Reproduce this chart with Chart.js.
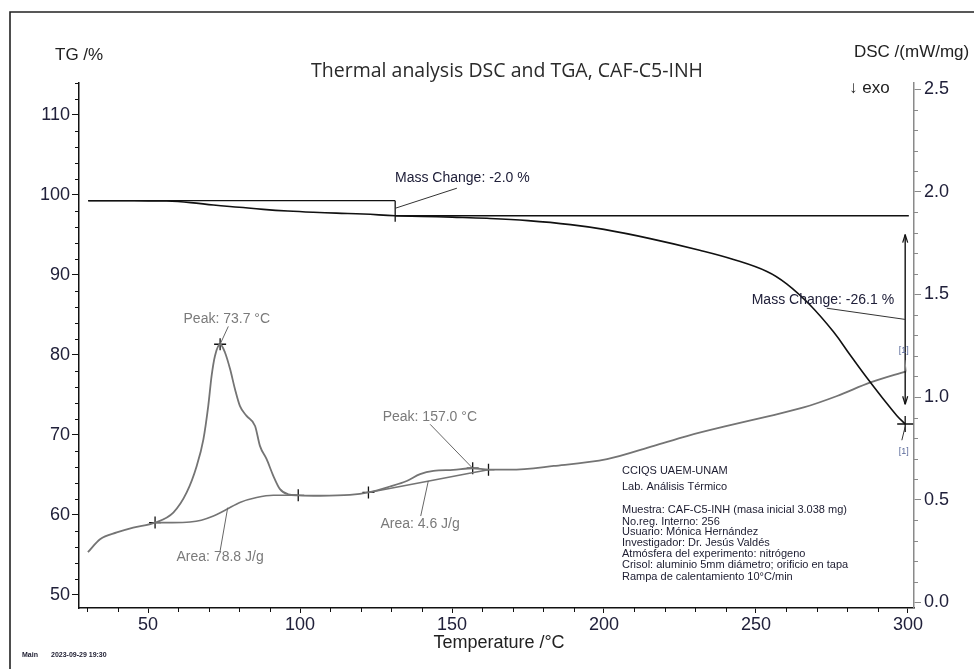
<!DOCTYPE html>
<html>
<head>
<meta charset="utf-8">
<title>Thermal analysis DSC and TGA, CAF-C5-INH</title>
<script src="https://cdn.jsdelivr.net/npm/chart.js"></script>
<style>
  body { margin: 0; background: #fff; }
  canvas { display: block; }
</style>
</head>
<body>
<canvas id="thermo" width="974" height="669"></canvas>
<script>
// TG curve (temperature °C, mass %)
const tgTemp = [30.3, 40.8, 50, 56.1, 64, 71.5, 80, 87.9, 96, 104.4, 112, 120.8, 131.3, 140, 150, 161.5,
  175, 189, 200, 215.2, 231.5, 242.6, 253.6, 260.1, 267.8, 275.5, 281, 286.5, 291.9, 296.3, 299.1];
const tgMass = [99.24, 99.24, 99.22, 99.2, 99.0, 98.7, 98.42, 98.16, 97.95, 97.79, 97.68, 97.58, 97.36, 97.28, 97.18, 97.04,
  96.75, 96.25, 95.65, 94.5, 93.05, 91.9, 90.4, 88.85, 86.2, 82.85, 79.95, 77.1, 74.45, 72.4, 71.33];

// DSC curve (temperature °C, mW/mg)
const dscTemp = [30.2, 34.2, 39.7, 45.1, 52.3, 58.3, 62.7, 66.0, 68.2, 69.8, 70.9, 72.0, 73.7, 75.3, 77.0, 78.6,
  80.2, 82.4, 85.2, 86.8, 89.0, 91.2, 93.4, 96.1, 99.4, 106.6, 116.4, 122.5, 129.6, 135.1, 139.5, 143.9,
  150.4, 156.8, 162.0, 169.1, 183.5, 201.0, 216.4, 227.3, 240.5, 254.7, 265.7, 276.7, 287.7, 299.4];
const dscVal = [0.244, 0.307, 0.340, 0.364, 0.388, 0.437, 0.535, 0.664, 0.794, 0.957, 1.103, 1.200, 1.257, 1.217, 1.135, 1.038,
  0.957, 0.908, 0.859, 0.762, 0.697, 0.616, 0.551, 0.526, 0.521, 0.519, 0.523, 0.535, 0.564, 0.591, 0.624, 0.640,
  0.645, 0.653, 0.646, 0.646, 0.664, 0.697, 0.762, 0.810, 0.859, 0.908, 0.949, 1.005, 1.071, 1.125];

// integration baselines
const base1Temp = [52.3, 58, 63.8, 67.5, 71.5, 75.9, 80.2, 85.7, 91.2, 99.4];
const base1Val = [0.388, 0.388, 0.391, 0.40, 0.42, 0.453, 0.486, 0.51, 0.521, 0.521];
const base2Temp = [122.5, 142, 162.0];
const base2Val = [0.535, 0.59, 0.646];

// evaluation marks
const dscMarkTemp = [52.3, 73.7, 99.4, 122.5, 156.8, 162.0];
const dscMarkVal = [0.388, 1.257, 0.521, 0.535, 0.653, 0.646];
const tgMarkTemp = [299.1];
const tgMarkVal = [71.33];

// mass change steps
const step1 = { t0: 30.3, t1: 131.3, m0: 99.24, m1: 97.36, tEnd: 300.3 };
const step2 = { t: 299.1, top: 95.0, bottom: 73.8 };

// axes
const xTicks = [50, 100, 150, 200, 250, 300];
const tgTicks = [50, 60, 70, 80, 90, 100, 110];
const dscTicks = [0, 0.5, 1.0, 1.5, 2.0, 2.5];

const pts = (xs, ys) => xs.map((v, i) => ({ x: v, y: ys[i] }));
const tickFont = { family: 'Liberation Sans, Arial, sans-serif', size: 18 };

const lineSet = (label, xs, ys, axis, color, width) => ({
  label, data: pts(xs, ys), yAxisID: axis, borderColor: color, borderWidth: width,
  pointRadius: 0, fill: false, cubicInterpolationMode: 'monotone'
});

// annotation texts, lines and minor ticks
const decor = {
  id: 'decor',
  afterDatasetsDraw(chart) {
    const ctx = chart.ctx;
    const X = chart.scales.x, T = chart.scales.tg, D = chart.scales.dsc;
    const px = v => X.getPixelForValue(v);
    const line = (x1, y1, x2, y2, color, w) => {
      ctx.beginPath(); ctx.moveTo(x1, y1); ctx.lineTo(x2, y2);
      ctx.strokeStyle = color; ctx.lineWidth = w; ctx.stroke();
    };
    ctx.save();
    // step 1 (-2.0 %)
    const k = '#111';
    line(px(step1.t0), T.getPixelForValue(step1.m0), px(step1.t1), T.getPixelForValue(step1.m0), k, 1.3);
    line(px(step1.t1), T.getPixelForValue(step1.m0), px(step1.t1), T.getPixelForValue(96.6), k, 1.3);
    line(px(step1.t1), T.getPixelForValue(step1.m1), px(step1.tEnd), T.getPixelForValue(step1.m1), k, 1.3);
    line(px(step1.t1), T.getPixelForValue(98.29), px(151.6), T.getPixelForValue(100.8), '#333', 1);
    // step 2 (-26.1 %), double arrow
    const ax = px(step2.t), ya = T.getPixelForValue(step2.top), yb = T.getPixelForValue(step2.bottom);
    line(ax, ya, ax, yb, k, 1.4);
    line(ax - 2.5, ya + 8, ax, ya, k, 1.2); line(ax + 2.5, ya + 8, ax, ya, k, 1.2);
    line(ax - 2.5, yb - 8, ax, yb, k, 1.2); line(ax + 2.5, yb - 8, ax, yb, k, 1.2);
    line(px(273.3), T.getPixelForValue(85.8), ax, T.getPixelForValue(84.4), '#333', 1);
    // DSC leaders
    const g = '#666';
    line(px(73.7), D.getPixelForValue(1.257), px(76.4), D.getPixelForValue(1.344), g, 1);
    line(px(142.8), D.getPixelForValue(0.867), px(156.8), D.getPixelForValue(0.653), g, 1);
    line(px(73.7), D.getPixelForValue(0.25), px(76.2), D.getPixelForValue(0.461), g, 1);
    line(px(139.7), D.getPixelForValue(0.42), px(142.2), D.getPixelForValue(0.591), g, 1);
    // [1] leaders
    line(px(299.0), D.getPixelForValue(1.18), px(299.4), D.getPixelForValue(1.125), '#888', 1);
    line(px(299.1), T.getPixelForValue(71.0), px(298.0), T.getPixelForValue(69.3), '#333', 1);

    ctx.textBaseline = 'middle';
    ctx.font = '14px "Liberation Sans", Arial, sans-serif';
    ctx.fillStyle = '#20203a';
    ctx.textAlign = 'left';
    ctx.fillText('Mass Change: -2.0 %', px(131.25), T.getPixelForValue(102.1));
    ctx.fillText('Mass Change: -26.1 %', px(248.6), T.getPixelForValue(86.8));
    ctx.fillStyle = '#7a7a7a';
    ctx.textAlign = 'center';
    ctx.fillText('Peak: 73.7 °C', px(75.9), D.getPixelForValue(1.379));
    ctx.fillText('Peak: 157.0 °C', px(142.7), D.getPixelForValue(0.902));
    ctx.fillText('Area: 78.8 J/g', px(73.7), D.getPixelForValue(0.219));
    ctx.fillText('Area: 4.6 J/g', px(139.5), D.getPixelForValue(0.38));
    ctx.font = '9px "Liberation Sans", Arial, sans-serif';
    ctx.fillStyle = '#5b6a9a';
    ctx.fillText('[1]', px(298.6), D.getPixelForValue(1.225));
    ctx.fillText('[1]', px(298.6), T.getPixelForValue(67.9));
    ctx.restore();
  },
  afterDraw(chart) {
    const ctx = chart.ctx;
    const X = chart.scales.x, T = chart.scales.tg, D = chart.scales.dsc;
    const area = chart.chartArea;
    ctx.save();
    // minor ticks
    ctx.lineWidth = 1;
    ctx.strokeStyle = '#111';
    ctx.beginPath();
    for (let v = 30; v <= 300; v += 10) {
      if (v % 50 === 0) continue;
      const p = Math.round(X.getPixelForValue(v)) + 0.5;
      ctx.moveTo(p, area.bottom); ctx.lineTo(p, area.bottom + 4);
    }
    for (let v = 50; v <= 114; v += 2) {
      if (v % 10 === 0) continue;
      const p = Math.round(T.getPixelForValue(v)) + 0.5;
      ctx.moveTo(area.left, p); ctx.lineTo(area.left - 4, p);
    }
    ctx.stroke();
    ctx.strokeStyle = '#8a8a8a';
    ctx.beginPath();
    for (let i = 0; i <= 25; i++) {
      if (i % 5 === 0) continue;
      const p = Math.round(D.getPixelForValue(i / 10)) + 0.5;
      ctx.moveTo(area.right, p); ctx.lineTo(area.right + 4, p);
    }
    ctx.stroke();

    // frame
    ctx.strokeStyle = '#222';
    ctx.lineWidth = 1.6;
    ctx.beginPath();
    ctx.moveTo(10, 669); ctx.lineTo(10, 12); ctx.lineTo(974, 12);
    ctx.stroke();

    // titles
    ctx.textBaseline = 'middle';
    ctx.fillStyle = '#222';
    ctx.font = '17px "Liberation Sans", Arial, sans-serif';
    ctx.textAlign = 'left';
    ctx.fillText('TG /%', 55, 55);
    ctx.fillText('DSC /(mW/mg)', 854, 52);
    ctx.fillText('\u2193 exo', 849, 88);
    ctx.textAlign = 'center';
    ctx.font = '18px "Liberation Sans", Arial, sans-serif';
    ctx.fillText('Temperature /°C', 499, 643);
    ctx.font = '19.5px "Open Sans", sans-serif';
    ctx.fillStyle = '#2a2a2a';
    ctx.fillText('Thermal analysis DSC and TGA, CAF-C5-INH', 507, 71);

    // instrument info
    ctx.textAlign = 'left';
    ctx.fillStyle = '#1c1c30';
    ctx.font = '11px "Liberation Sans", Arial, sans-serif';
    const info = [
      ['CCIQS UAEM-UNAM', 471], ['Lab. Análisis Térmico', 486.7],
      ['Muestra: CAF-C5-INH (masa inicial 3.038 mg)', 510], ['No.reg. Interno: 256', 521.7],
      ['Usuario: Mónica Hernández', 532.3], ['Investigador: Dr. Jesús Valdés', 543.3],
      ['Atmósfera del experimento: nitrógeno', 554.3], ['Crisol: aluminio 5mm diámetro; orificio en tapa', 565],
      ['Rampa de calentamiento 10°C/min', 576.7]
    ];
    info.forEach(([s, y]) => ctx.fillText(s, 622, y));
    ctx.font = 'bold 7px "Liberation Sans", Arial, sans-serif';
    ctx.fillText('Main', 22, 655);
    ctx.fillText('2023-09-29 19:30', 51, 655);
    ctx.restore();
  }
};

const tgSet = lineSet('TG', tgTemp, tgMass, 'tg', '#111', 1.6);
tgSet.cubicInterpolationMode = 'default';
tgSet.tension = 0.4;

new Chart(document.getElementById('thermo'), {
  type: 'line',
  data: {
    datasets: [
      tgSet,
      lineSet('DSC', dscTemp, dscVal, 'dsc', '#747474', 1.8),
      lineSet('Baseline 1', base1Temp, base1Val, 'dsc', '#747474', 1.6),
      lineSet('Baseline 2', base2Temp, base2Val, 'dsc', '#747474', 1.6),
      { label: 'DSC marks', data: pts(dscMarkTemp, dscMarkVal), yAxisID: 'dsc', showLine: false,
        pointStyle: 'cross', pointRadius: 6, borderColor: '#111', borderWidth: 1.3 },
      { label: 'TG marks', data: pts(tgMarkTemp, tgMarkVal), yAxisID: 'tg', showLine: false,
        pointStyle: 'cross', pointRadius: 8, borderColor: '#111', borderWidth: 1.3 }
    ]
  },
  options: {
    responsive: false,
    animation: false,
    layout: { padding: { top: 83, left: 0, right: 0, bottom: 0 } },
    plugins: { legend: { display: false }, tooltip: { enabled: false } },
    scales: {
      x: {
        type: 'linear', min: 27.27, max: 302.0,
        afterBuildTicks: s => { s.ticks = xTicks.map(v => ({ value: v })); },
        afterFit: s => { s.height = 61; },
        border: { color: '#111', width: 1.5 },
        grid: { drawOnChartArea: false, tickLength: 5, color: '#111' },
        ticks: { font: tickFont, color: '#20203a', padding: 1, autoSkip: false, maxRotation: 0 }
      },
      tg: {
        type: 'linear', position: 'left', min: 48.33, max: 113.95,
        afterBuildTicks: s => { s.ticks = tgTicks.map(v => ({ value: v })); },
        afterFit: s => { s.width = 79; },
        border: { color: '#111', width: 1.5 },
        grid: { drawOnChartArea: false, tickLength: 7, color: '#111' },
        ticks: { font: tickFont, color: '#20203a', padding: 2 }
      },
      dsc: {
        type: 'linear', position: 'right', min: -0.028, max: 2.53,
        afterBuildTicks: s => { s.ticks = dscTicks.map(v => ({ value: v })); },
        afterFit: s => { s.width = 60; },
        border: { color: '#8a8a8a', width: 1.5 },
        grid: { drawOnChartArea: false, tickLength: 7, color: '#8a8a8a' },
        ticks: { font: tickFont, color: '#20203a', padding: 3, callback: v => v.toFixed(1) }
      }
    }
  },
  plugins: [decor]
});
</script>
</body>
</html>
